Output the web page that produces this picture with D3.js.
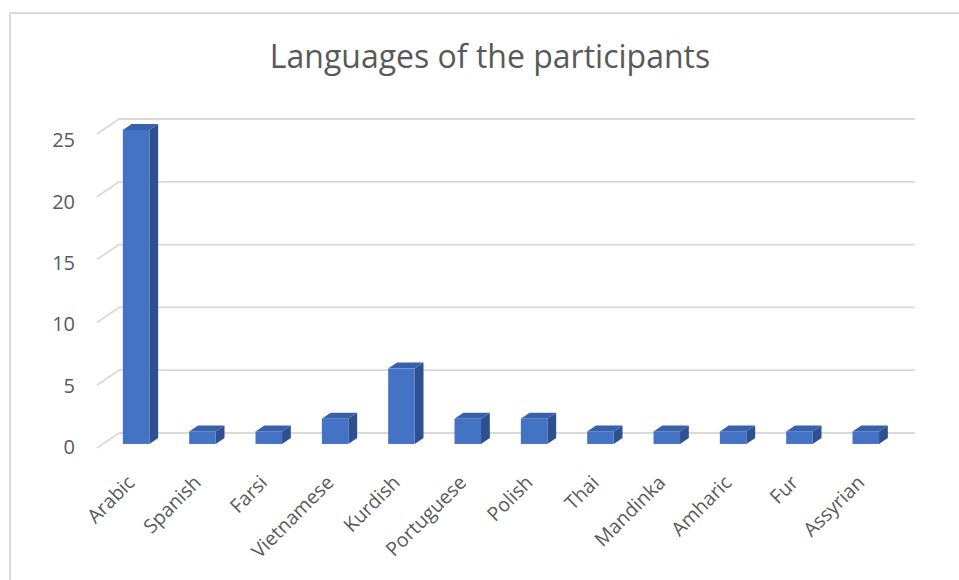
<!DOCTYPE html>
<html><head><meta charset="utf-8">
<script src="https://cdn.jsdelivr.net/npm/d3@7"></script>
<style>body{margin:0;background:#fff;} text{font-family:"Open Sans",sans-serif;}</style>
</head><body>
<svg id="c" width="959" height="580"></svg>
<script>
const categories = ["Arabic","Spanish","Farsi","Vietnamese","Kurdish","Portuguese","Polish","Thai","Mandinka","Amharic","Fur","Assyrian"];
const values = [25,1,1,2,6,2,2,1,1,1,1,1];
const yTicks = [0,5,10,15,20,25];
const title = "Languages of the participants";

const svg = d3.select("#c");
// chart border
svg.append("path").attr("d","M10,585 L10,13 L965,13").attr("fill","none").attr("stroke","#d9d9d9").attr("stroke-width",2);

svg.append("text").attr("x",490).attr("y",68).attr("text-anchor","middle")
  .attr("font-size",32).attr("fill","#595959").text(title);

const DX = 22, DY = 15; // depth offset front->back
const x = d3.scaleBand().domain(categories).range([119,915]).paddingInner(0.6).paddingOuter(0.3);
const y = d3.scaleLinear().domain([0,25]).range([433,119]);
const yLab = d3.scaleLinear().domain([0,25]).range([447,140]);

const g = svg.append("g");
yTicks.forEach(t=>{
  g.append("line").attr("x1",119).attr("x2",915).attr("y1",y(t)).attr("y2",y(t))
    .attr("stroke","#d9d9d9").attr("stroke-width",1.8);
  g.append("line").attr("x1",119-DX).attr("x2",119).attr("y1",y(t)+DY).attr("y2",y(t))
    .attr("stroke","#d9d9d9").attr("stroke-width",1.8);
});

svg.append("g").selectAll("text").data(yTicks).join("text")
  .attr("x",75).attr("y",d=>yLab(d)).attr("dy","0.36em").attr("text-anchor","end")
  .attr("font-size",20).attr("fill","#595959").text(d=>d);

const fD = 0.27, bD = 0.67;
const off = d => ({dx: -(1-d)*DX, dy: (1-d)*DY});
const fo = off(fD), bo = off(bD);
const bars = g.append("g").selectAll("g").data(categories.map((c,i)=>({c,v:values[i]}))).join("g");
bars.each(function(d){
  const s = d3.select(this);
  const x0 = x(d.c), x1 = x(d.c)+x.bandwidth();
  const yt = y(d.v), yb = y(0);
  s.append("path").attr("fill","#2E5090")
    .attr("d",`M${x1+fo.dx},${yt+fo.dy} L${x1+bo.dx},${yt+bo.dy} L${x1+bo.dx},${yb+bo.dy} L${x1+fo.dx},${yb+fo.dy} Z`);
  s.append("path").attr("fill","#3961AB")
    .attr("d",`M${x0+fo.dx},${yt+fo.dy} L${x0+bo.dx},${yt+bo.dy} L${x1+bo.dx},${yt+bo.dy} L${x1+fo.dx},${yt+fo.dy} Z`);
  s.append("rect").attr("fill","#4472C4")
    .attr("x",x0+fo.dx).attr("y",yt+fo.dy).attr("width",x.bandwidth()).attr("height",yb-yt);
});

svg.append("g").selectAll("text").data(categories).join("text")
  .attr("transform",d=>`translate(${x(d)+x.bandwidth()/2+fo.dx-5},479) rotate(-45)`)
  .attr("dy","0.35em").attr("text-anchor","end")
  .attr("font-size",19.5).attr("fill","#595959").text(d=>d);
</script>
</body></html>
